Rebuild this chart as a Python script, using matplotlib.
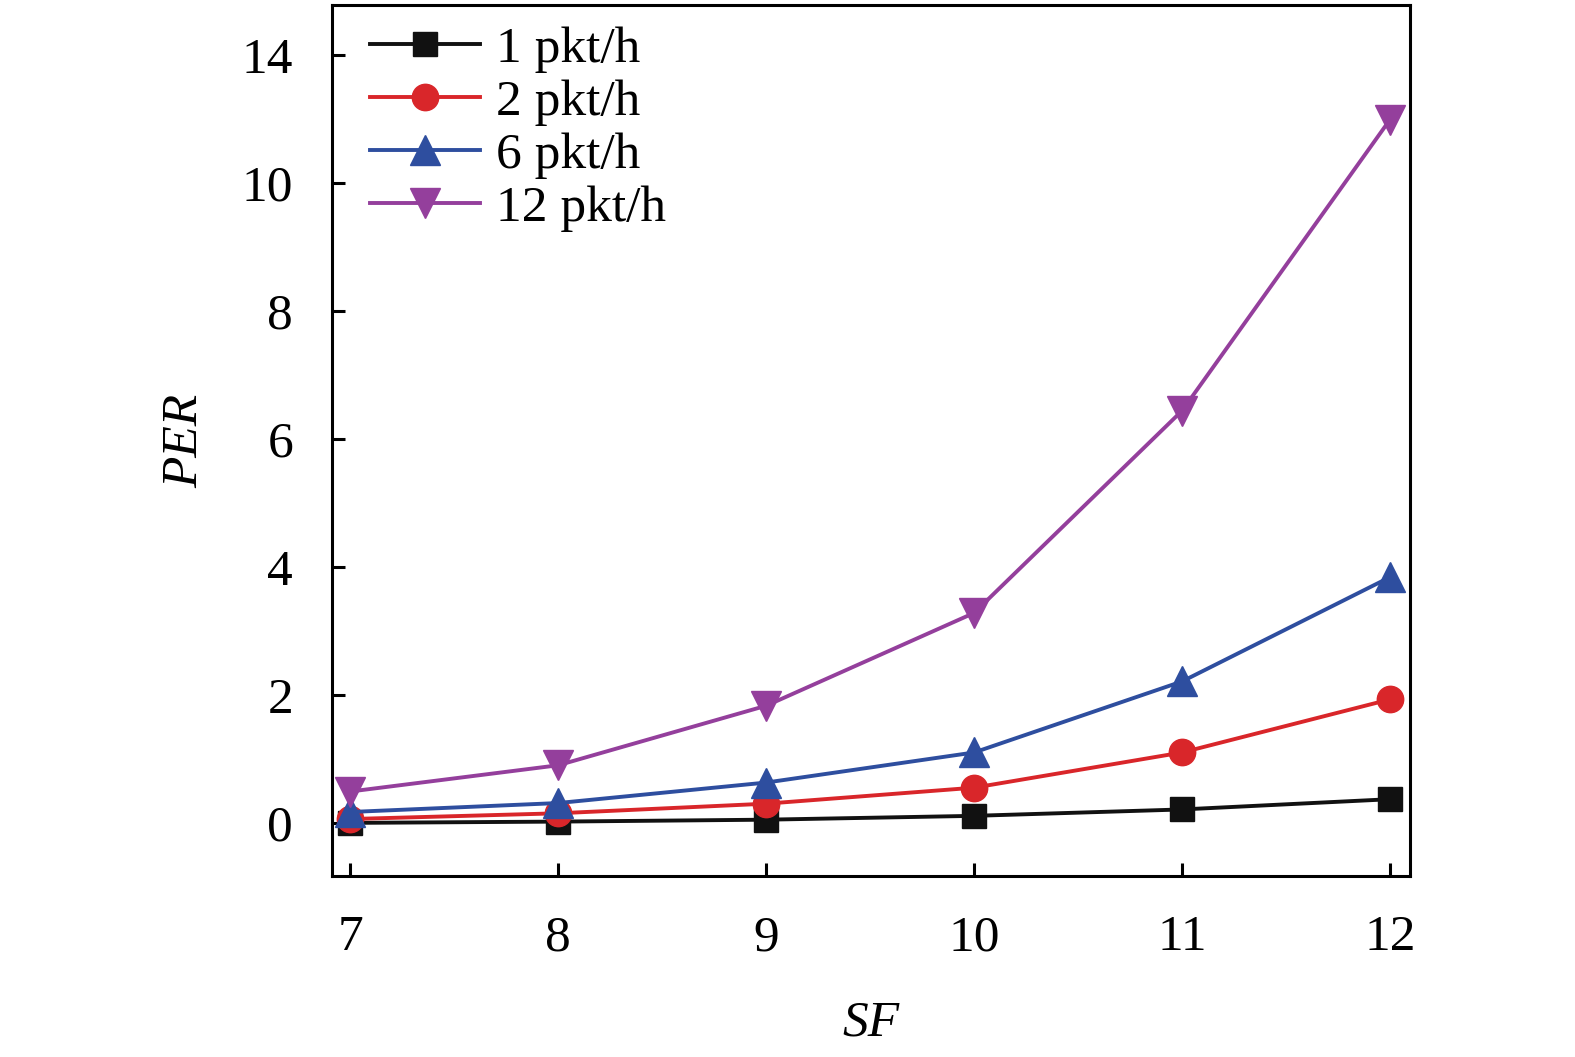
import matplotlib
matplotlib.use("Agg")
import matplotlib.pyplot as plt

sf = [7, 8, 9, 10, 11, 12]
per_1 = [0.0, 0.02, 0.05, 0.11, 0.21, 0.37]
per_2 = [0.06, 0.15, 0.30, 0.55, 1.10, 1.93]
per_6 = [0.17, 0.31, 0.63, 1.10, 2.21, 3.84]
per_12 = [0.49, 0.90, 1.83, 3.28, 6.44, 10.99]
labels = ["1 pkt/h", "2 pkt/h", "6 pkt/h", "12 pkt/h"]
ytick_pos = [0, 2, 4, 6, 8, 10, 12]
ytick_labels = ["0", "2", "4", "6", "8", "10", "14"]

plt.rcParams['font.family'] = ['Liberation Serif', 'DejaVu Serif']
plt.rcParams['mathtext.fontset'] = 'stix'

fig = plt.figure(figsize=(15.75, 10.57), dpi=100)
ax = fig.add_axes([332/1575, 1-876/1057, (1410-332)/1575, (876-5)/1057])

styles = [
    dict(color="#111111", marker="s", ms=17),
    dict(color="#d9262a", marker="o", ms=19),
    dict(color="#2e4e9f", marker="^", ms=22),
    dict(color="#943f9c", marker="v", ms=22),
]
for ys, lab, st in zip([per_1, per_2, per_6, per_12], labels, styles):
    ax.plot(sf, ys, color=st["color"], marker=st["marker"], ms=st["ms"],
            lw=2.8, label=lab, mec=st["color"], mfc=st["color"])

ax.set_xlim(6.913, 12.096)
ax.set_ylim(-0.83, 12.78)
ax.set_xticks(sf)
ax.set_xticklabels([str(v) for v in sf])
ax.set_yticks(ytick_pos)
ax.set_yticklabels(ytick_labels)
ax.tick_params(direction="in", length=9.5, width=2.2, labelsize=37, pad=28)
for sp in ax.spines.values():
    sp.set_linewidth(2.2)

ax.set_xlabel("SF", fontsize=37, style="italic", labelpad=28)
ax.set_ylabel("PER", fontsize=37, style="italic", labelpad=24)

leg = ax.legend(loc="upper left", frameon=False, fontsize=37,
                handlelength=2.15, handletextpad=0.3, labelspacing=0.12,
                borderaxespad=0.0, bbox_to_anchor=(0.016, 1.0))

fig.savefig("out.png", dpi=100)
